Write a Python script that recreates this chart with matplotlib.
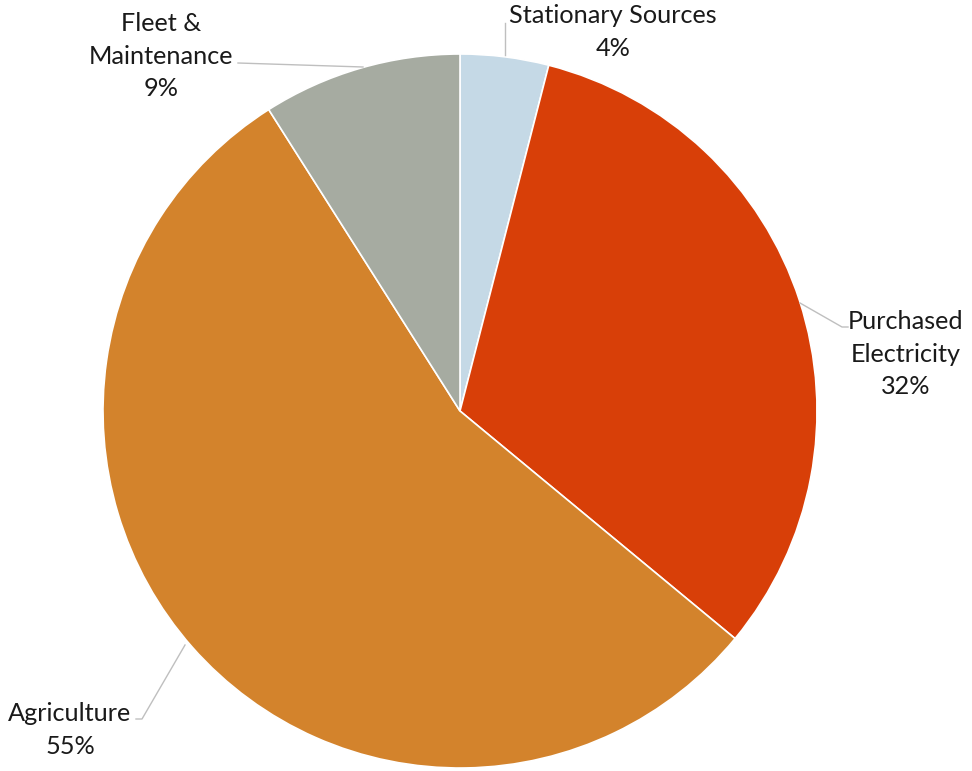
import matplotlib.pyplot as plt

labels = ['Stationary Sources', 'Purchased\nElectricity', 'Agriculture', 'Fleet &\nMaintenance']
shares = [4, 32, 55, 9]
colors = ['#c5d9e6', '#d83f08', '#d3832c', '#a6aba1']

W, H = 972, 771
fig = plt.figure(figsize=(W / 100, H / 100), dpi=100)
ax = fig.add_axes([0, 0, 1, 1])

# pixel-style coordinates, y flipped so the pie still runs clockwise
cx, cy, r = 460, H - 411, 357
ax.pie(shares, colors=colors, startangle=90, counterclock=False,
       center=(cx, cy), radius=r,
       wedgeprops=dict(edgecolor='white', linewidth=1.2))
ax.set_xlim(0, W)
ax.set_ylim(0, H)
ax.set_aspect('equal')
ax.axis('off')

font = dict(family='Lato', fontsize=18.2, color='#1a1a1a', ha='center', va='center',
            linespacing=1.5)
lc = '#bfbfbf'

def line(xs, ys):
    ax.plot(xs, [H - y for y in ys], color=lc, lw=1)

# Stationary Sources
line([505, 505], [23, 55])
ax.text(613, H - 32, labels[0] + '\n%d%%' % shares[0], **font)

# Purchased Electricity
line([800, 842, 848], [303, 327, 327])
ax.text(906, H - 354, labels[1] + '\n%d%%' % shares[1], **font)

# Agriculture
line([185, 142, 136], [645, 719, 719])
ax.text(70, H - 730, labels[2] + '\n%d%%' % shares[2], **font)

# Fleet & Maintenance
line([238, 363], [63, 67])
ax.text(161, H - 56, labels[3] + '\n%d%%' % shares[3], **font)

fig.savefig('out.png', dpi=100)
